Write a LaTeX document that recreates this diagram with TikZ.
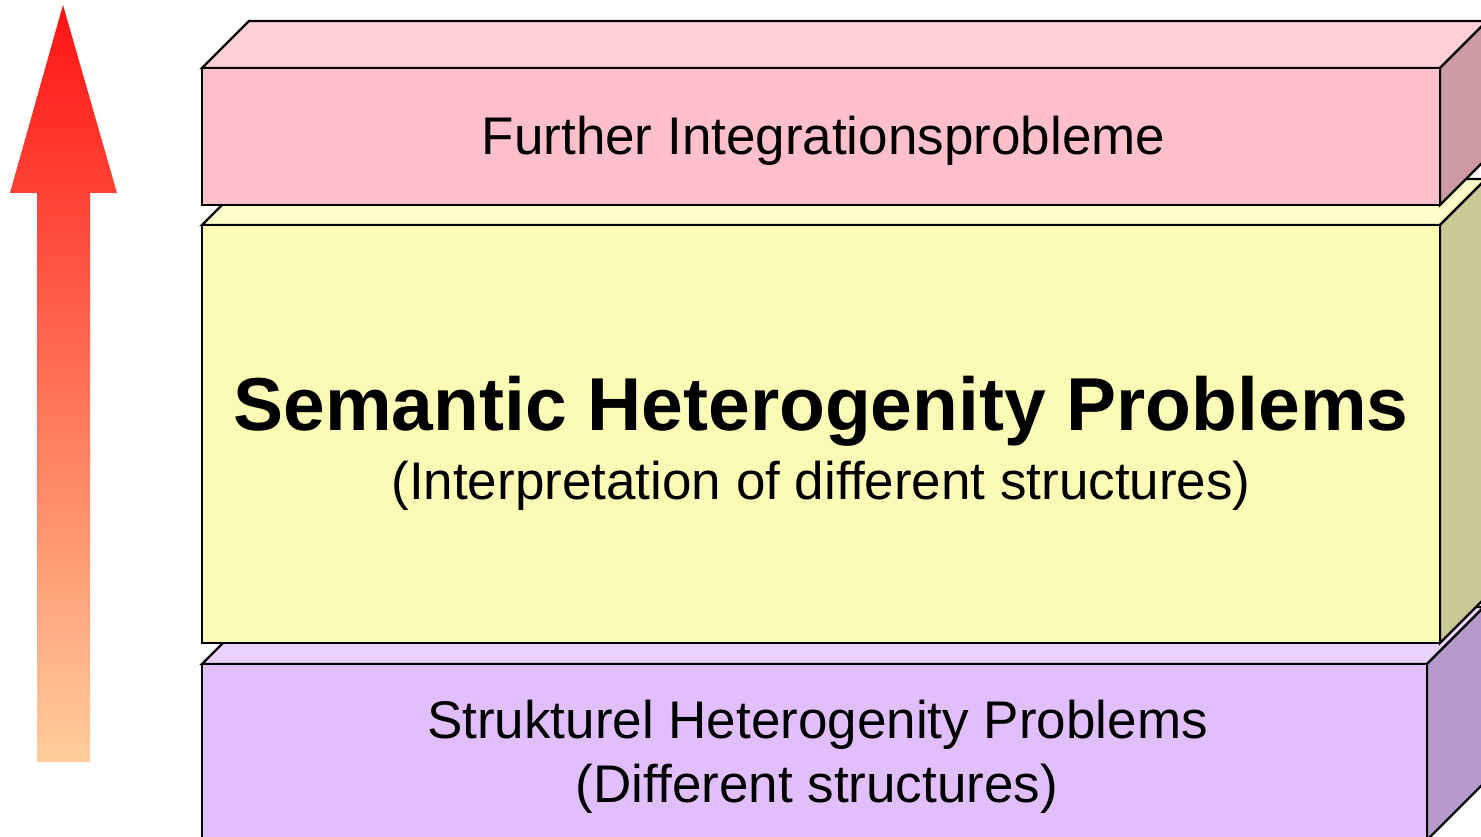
\documentclass[tikz,border=0pt]{standalone}
\usepackage{fontspec}
\setmainfont[Ligatures=NoCommon]{Liberation Sans}
\begin{document}
\begin{tikzpicture}[x=1pt,y=-1pt,
  face/.style={draw=black,line width=2.4pt,line join=miter},
  frontface/.style={face,rectangle,inner sep=0pt,outer sep=0pt},
  lbl/.style={anchor=base,inner sep=0pt,text=black}]
\definecolor{pinkF}{HTML}{FFC0CB}\definecolor{pinkT}{HTML}{FFD0D8}\definecolor{pinkR}{HTML}{CC9AA3}
\definecolor{yelF}{HTML}{FBFBB6}\definecolor{yelT}{HTML}{FFFFCC}\definecolor{yelR}{HTML}{C9C997}
\definecolor{purF}{HTML}{E1BFFD}\definecolor{purT}{HTML}{EBD1FF}\definecolor{purR}{HTML}{B59ACB}
\definecolor{arrTop}{HTML}{FF1414}\definecolor{arrBot}{HTML}{FFCE9A}
\useasboundingbox (0,0) rectangle (1481,837);
\clip (0,0) rectangle (1481,837);
\fill[white] (0,0) rectangle (1481,837);
% arrow
\shade[top color=arrTop,bottom color=arrBot] (63,5) -- (117,193) -- (90,193) -- (90,762) -- (37,762) -- (37,193) -- (10,193) -- cycle;
% purple box
\node[frontface,fill=purF,minimum width=1225pt,minimum height=176pt] (pf) at (814.5,752) {};
\filldraw[face,fill=purT] (pf.north west) -- (pf.north east) -- ++(57,-57) -- ([shift={(57,-57)}]pf.north west) -- cycle;
\filldraw[face,fill=purR] (pf.north east) -- ++(57,-57) -- ([shift={(57,-57)}]pf.south east) -- (pf.south east) -- cycle;
\node[frontface,fill=purF,minimum width=1225pt,minimum height=176pt] at (pf.center) {};
% yellow box
\node[frontface,fill=yelF,minimum width=1238pt,minimum height=418pt] (yf) at (821,434) {};
\filldraw[face,fill=yelT] (yf.north west) -- (yf.north east) -- ++(46,-46) -- ([shift={(46,-46)}]yf.north west) -- cycle;
\filldraw[face,fill=yelR] (yf.north east) -- ++(46,-46) -- ([shift={(46,-46)}]yf.south east) -- (yf.south east) -- cycle;
\node[frontface,fill=yelF,minimum width=1238pt,minimum height=418pt] at (yf.center) {};
% pink box
\node[frontface,fill=pinkF,minimum width=1238pt,minimum height=137pt] (kf) at (821,136.5) {};
\filldraw[face,fill=pinkT] (kf.north west) -- (kf.north east) -- ++(47,-47) -- ([shift={(47,-47)}]kf.north west) -- cycle;
\filldraw[face,fill=pinkR] (kf.north east) -- ++(47,-47) -- ([shift={(47,-47)}]kf.south east) -- (kf.south east) -- cycle;
\node[frontface,fill=pinkF,minimum width=1238pt,minimum height=137pt] at (kf.center) {};
% labels
\node[lbl,font=\fontsize{53}{60}\selectfont] (t1) at (823.5,155) {Further Integrationsprobleme};
\node[lbl,font=\fontsize{75}{85}\selectfont\bfseries] (t2) at (821,430) {Semantic Heterogenity Problems};
\node[lbl,font=\fontsize{53}{60}\selectfont] (t3) at (821,499) {(Interpretation of different structures)};
\node[lbl,font=\fontsize{53}{60}\selectfont] (t4) at (817.5,738) {Strukturel Heterogenity Problems};
\node[lbl,font=\fontsize{53}{60}\selectfont] (t5) at (817,802) {(Different structures)};
\end{tikzpicture}
\end{document}
